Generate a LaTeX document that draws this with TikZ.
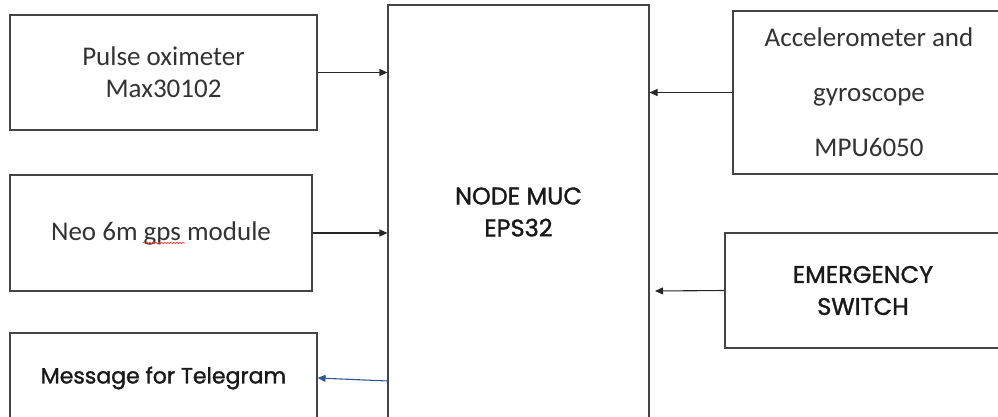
\documentclass[tikz,border=0pt]{standalone}
\usepackage{fontspec}
\setmainfont{Carlito}
\newfontfamily\gothic{Poppins}[FakeBold=1.3]
\usepackage{xcolor}
\usetikzlibrary{arrows.meta, positioning, decorations.pathmorphing}
\definecolor{boxline}{HTML}{444444}
\definecolor{msgblue}{HTML}{2F5597}
\tikzset{
  block/.style={rectangle, draw=boxline, line width=1.1pt, fill=white,
                align=center, inner sep=0pt, text=black!80,
                font=\fontsize{27}{32}\selectfont},
  gblock/.style={block, text=black!90, font=\gothic\fontsize{24}{32}\selectfont},
  arrow/.style={-{Triangle[length=8pt,width=7pt]}, line width=1.1pt, black!85},
}

\begin{document}
\begin{tikzpicture}[x=1pt, y=-1pt]
  \useasboundingbox (0,0) rectangle (998,417);
  \clip (0,0) rectangle (998,417);

  % --- Central controller ---
  \node[gblock, minimum width=261pt, minimum height=414pt] (mcu) at (518.5,212)
        {NODE MUC\\ EPS32};

  % --- Left side ---
  \node[block, minimum width=307pt, minimum height=115pt] (pulse) at (163.5,72.5)
        {Pulse oximeter\\ Max30102};
  \node[block, minimum width=302pt, minimum height=116pt] (gps) at (161,233)
        {Neo 6m gps module};
  \node[gblock, minimum width=307pt, minimum height=90pt,
        font=\gothic\fontsize{22}{32}\selectfont] (msg) at (163.5,378)
        {Message for Telegram};

  % --- Right side ---
  \node[block, minimum width=272pt, minimum height=163pt, font=\fontsize{27}{55}\selectfont]
        (imu) at (869,92.5) {Accelerometer and\\ gyroscope\\ MPU6050};
  \node[gblock, minimum width=276pt, minimum height=115pt] (sos) at (863,290.5)
        {EMERGENCY\\ SWITCH};

  % spell-check mark under "gps"
  \draw[red!80, line width=0.6pt, decorate,
        decoration={snake, amplitude=0.8pt, segment length=3pt}]
        ([xshift=-18pt, yshift=-10pt]gps.center) -- ([xshift=24pt, yshift=-10pt]gps.center);

  % --- Arrows ---
  \coordinate (sosin) at (655,291);
  \coordinate (msgout) at (388,381);
  \draw[arrow] (pulse.east) -- (pulse.east -| mcu.west);
  \draw[arrow] (gps.east)   -- (gps.east -| mcu.west);
  \draw[arrow] (imu.west)   -- (imu.west -| mcu.east);
  \draw[arrow] (sos.west)   -- (sosin);
  \draw[arrow, msgblue] (msgout) -- (msg.east);

\end{tikzpicture}
\end{document}
